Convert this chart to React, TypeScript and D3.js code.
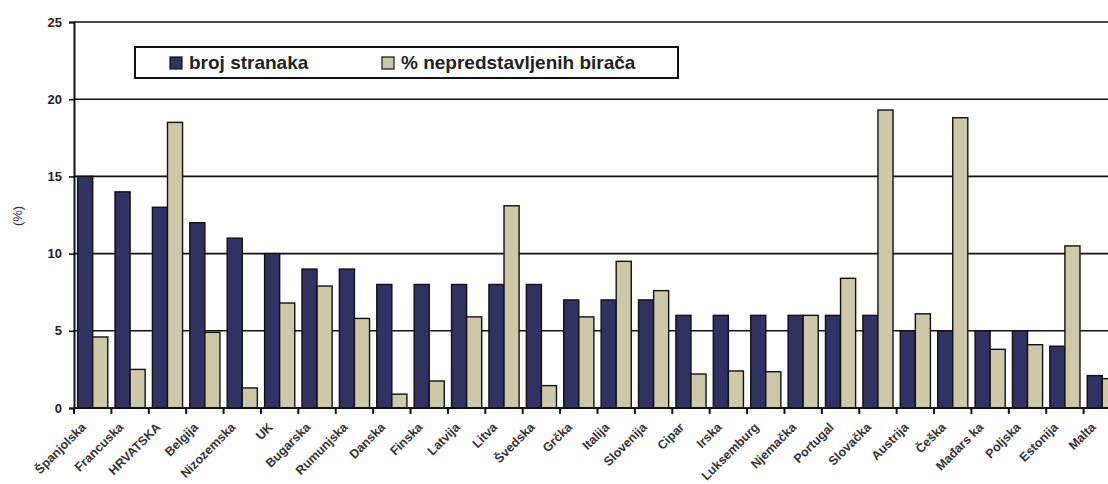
import * as d3 from 'd3';
import React, { useEffect, useRef } from 'react';

const countries = [
  'Španjolska', 'Francuska', 'HRVATSKA', 'Belgija', 'Nizozemska', 'UK', 'Bugarska',
  'Rumunjska', 'Danska', 'Finska', 'Latvija', 'Litva', 'Švedska', 'Grčka', 'Italija',
  'Slovenija', 'Cipar', 'Irska', 'Luksemburg', 'Njemačka', 'Portugal', 'Slovačka',
  'Austrija', 'Češka', 'Mađars ka', 'Poljska', 'Estonija', 'Malta',
];
const brojStranaka = [15, 14, 13, 12, 11, 10, 9, 9, 8, 8, 8, 8, 8, 7, 7, 7, 6, 6, 6, 6, 6, 6, 5, 5, 5, 5, 4, 2.1];
const nepredstavljeni = [4.6, 2.5, 18.5, 4.9, 1.3, 6.8, 7.9, 5.8, 0.9, 1.75, 5.9, 13.1, 1.45, 5.9, 9.5, 7.6, 2.2, 2.4, 2.35, 6.0, 8.4, 19.3, 6.1, 18.8, 3.8, 4.1, 10.5, 1.9];
const yTicks = [0, 5, 10, 15, 20, 25];
const seriesNames = ['broj stranaka', '% nepredstavljenih birača'];
const seriesColors = ['#2f3262', '#cdc8a8'];

const W = 1108;
const H = 484;
const margin = { left: 74, top: 22, bottom: 76 };
const plotRight = 1121;

export default function App() {
  const ref = useRef<SVGSVGElement>(null);

  useEffect(() => {
    const svg = d3.select(ref.current);
    svg.selectAll('*').remove();
    const font = 'Arial, "Liberation Sans", sans-serif';

    const x = d3.scaleBand<string>().domain(countries).range([margin.left, plotRight]).paddingInner(0).paddingOuter(0);
    const y = d3.scaleLinear().domain([0, 25]).range([H - margin.bottom, margin.top]);
    const inner = d3.scaleBand<number>().domain([0, 1]).range([0, x.bandwidth()]).paddingInner(0).paddingOuter(0.24);

    // gridlines
    svg
      .append('g')
      .selectAll('line')
      .data(yTicks.filter((t) => t > 0))
      .join('line')
      .attr('x1', margin.left)
      .attr('x2', W)
      .attr('y1', (d) => y(d))
      .attr('y2', (d) => y(d))
      .attr('stroke', '#111')
      .attr('stroke-width', 1.6);

    const series = [brojStranaka, nepredstavljeni];
    series.forEach((vals, si) => {
      svg
        .append('g')
        .selectAll('rect')
        .data(vals)
        .join('rect')
        .attr('x', (_, i) => (x(countries[i]) as number) + (inner(si) as number))
        .attr('width', inner.bandwidth())
        .attr('y', (d) => y(d))
        .attr('height', (d) => y(0) - y(d))
        .attr('fill', seriesColors[si])
        .attr('stroke', '#111')
        .attr('stroke-width', 1.4);
    });

    // y axis
    const yAxis = svg
      .append('g')
      .attr('transform', `translate(${margin.left},0)`)
      .call(d3.axisLeft(y).tickValues(yTicks).tickSize(5).tickPadding(7));
    yAxis.select('.domain').attr('stroke', '#111').attr('stroke-width', 2);
    yAxis.selectAll('.tick line').attr('stroke', '#111').attr('stroke-width', 1.6);
    yAxis
      .selectAll('.tick text')
      .attr('font-family', font)
      .attr('font-size', 13)
      .attr('font-weight', 'bold')
      .attr('fill', '#222');

    // x axis
    const xAxisG = svg.append('g').attr('transform', `translate(0,${y(0)})`);
    xAxisG
      .append('line')
      .attr('x1', margin.left)
      .attr('x2', W)
      .attr('stroke', '#111')
      .attr('stroke-width', 2);
    xAxisG
      .selectAll('line.tk')
      .data(countries)
      .join('line')
      .attr('class', 'tk')
      .attr('x1', (d) => x(d) as number)
      .attr('x2', (d) => x(d) as number)
      .attr('y1', 0)
      .attr('y2', 6)
      .attr('stroke', '#111')
      .attr('stroke-width', 2);
    xAxisG
      .selectAll('text')
      .data(countries)
      .join('text')
      .attr('transform', (d) => `translate(${(x(d) as number) + x.bandwidth() / 2 - 6},${20}) rotate(-45)`)
      .attr('text-anchor', 'end')
      .attr('font-family', font)
      .attr('font-size', 12.5)
      .attr('font-weight', 'bold')
      .attr('fill', '#333')
      .text((d) => d);

    // y label
    svg
      .append('text')
      .attr('transform', `translate(22,216) rotate(-90)`)
      .attr('text-anchor', 'middle')
      .attr('font-family', font)
      .attr('font-size', 13)
      .attr('fill', '#333')
      .text('(%)');

    // legend
    const lg = svg.append('g');
    lg.append('rect')
      .attr('x', 135)
      .attr('y', 47)
      .attr('width', 543)
      .attr('height', 31)
      .attr('fill', '#fff')
      .attr('stroke', '#111')
      .attr('stroke-width', 2);
    const legendX = [170, 382];
    seriesNames.forEach((name, i) => {
      lg.append('rect')
        .attr('x', legendX[i])
        .attr('y', 57)
        .attr('width', 12)
        .attr('height', 12)
        .attr('fill', seriesColors[i])
        .attr('stroke', '#111')
        .attr('stroke-width', 1.2);
      lg.append('text')
        .attr('x', legendX[i] + 19)
        .attr('y', 69)
        .attr('font-family', font)
        .attr('font-size', 19)
        .attr('font-weight', 'bold')
        .attr('fill', '#222')
        .text(name);
    });
  }, []);

  return (
    <svg
      ref={ref}
      width={W}
      height={H}
      style={{ position: 'absolute', left: 0, top: 0, background: '#fff' }}
    />
  );
}
